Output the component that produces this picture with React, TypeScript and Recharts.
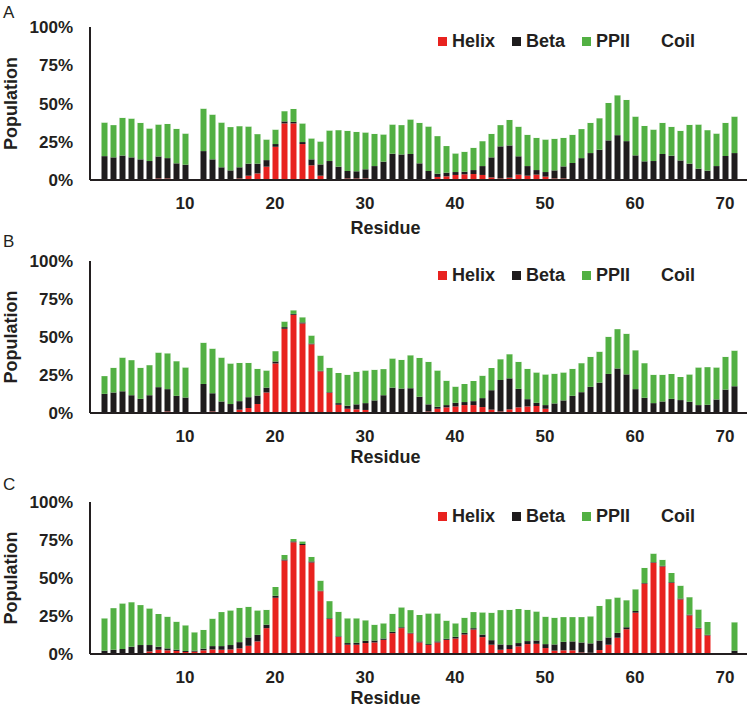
import React from "react";
import {Bar, BarChart, Legend, XAxis, YAxis} from "recharts";

const residues = [
  1, 2, 3, 4, 5, 6, 7, 8, 9, 10, 11, 12, 13, 14, 15, 16, 17, 18, 19, 20,
  21, 22, 23, 24, 25, 26, 27, 28, 29, 30, 31, 32, 33, 34, 35, 36, 37, 38, 39, 40,
  41, 42, 43, 44, 45, 46, 47, 48, 49, 50, 51, 52, 53, 54, 55, 56, 57, 58, 59, 60,
  61, 62, 63, 64, 65, 66, 67, 68, 69, 70, 71,
];

const seriesNames = ["Helix", "Beta", "PPII", "Coil"];
const xTicks = [10, 20, 30, 40, 50, 60, 70];
const yTicks = [0, 25, 50, 75, 100];

// panel A
const helixA = [
  0, 0, 0, 0, 0, 0, 1, 1, 0.5, 0.5, null, 0, 0.5, 0, 0, 1, 2.8, 4.3, 8.7, 21.7,
  37, 37, 23.5, 9.6, 2.8, 0.5, 0, 1, 1, 1, 0, 0, 0, 0, 0, 0, 0, 2, 2.4, 3.3,
  3.7, 3.9, 3.3, 1.7, 1, 1.5, 3.5, 2.8, 3.5, 2.2, 1, 1, 0.5, 0, 0, 0, 0, 0, 0, 0,
  0, 0, 0, 0, 0, 0, 0, 0, 0, 0, 0,
];
const betaA = [
  15.6, 14.8, 16, 14.8, 13.5, 12.4, 14.4, 13.3, 10.4, 9.5, null, 18.9, 13, 8.3, 6.3, 7.3, 7.9, 6.4, 4.3, 1.8,
  1.3, 1, 1.3, 3.9, 7.4, 11.9, 8.7, 4.9, 4.7, 6, 9.1, 12, 17.2, 16.7, 17, 10.9, 5.9, 2.1, 2.4, 1.9,
  1.7, 2.6, 5.8, 13.1, 21, 21.1, 12, 6.3, 3, 3, 5.3, 7.9, 10.6, 14.3, 17.6, 19.8, 25.9, 29.3, 25.4, 16.1,
  12.2, 12.4, 17, 15.9, 12.8, 10.7, 7.4, 6.1, 9.1, 15.7, 17.6,
];
const ppiiA = [
  22, 21.1, 24.7, 25.4, 23.9, 21.3, 20.9, 22.4, 22.6, 20.4, null, 27.8, 29.3, 29.3, 28.3, 26.9, 24.3, 19.3, 13.5, 9.5,
  6.7, 8.5, 12.2, 13.7, 15, 20, 23.9, 26.3, 25.8, 24.1, 21.1, 17.8, 19.1, 19.2, 22.6, 26.5, 29.1, 24.6, 17.4, 12.2,
  13.1, 14.6, 16.3, 15.4, 13.9, 16.7, 19.4, 20.5, 21.1, 21.3, 20.7, 18.7, 18.5, 19, 19.8, 20.6, 24.5, 26.1, 27, 25.4,
  23.2, 20.6, 20.4, 18.9, 19.4, 25.4, 28.9, 26.5, 21.3, 21.7, 23.9,
];

// panel B
const helixB = [
  0, 0, 0, 0, 0, 0, 0, 1, 0, 0, null, 0, 1, 0.5, 0, 2.2, 3.3, 5.9, 13.5, 32.6,
  55.4, 64.6, 58.9, 45.2, 27.4, 13.3, 5.4, 2.8, 2.4, 2, 0, 0, 0, 0, 0, 0, 1, 2.8, 3.7, 4.3,
  5.2, 5.2, 3.9, 2.2, 1, 2.4, 3.7, 4.3, 4.6, 2.8, 0.5, 0.5, 0.5, 0, 0, 0, 0, 0, 0, 0,
  0, 0, 0, 0, 0, 0, 0, 0, 0, 0, 0,
];
const betaB = [
  12.6, 13.5, 14.3, 11.7, 9.3, 11.7, 17, 14.7, 11.3, 10.2, null, 19.1, 12, 7.1, 5.9, 5.6, 7.1, 5.6, 3.2, 1.3,
  1.1, 0.6, 0.7, 0.5, 0.4, 0.4, 1.1, 2, 3.3, 4.5, 8.3, 11.7, 16.7, 16.1, 16.3, 10.7, 4.7, 1.3, 1.5, 2.4,
  2, 2.6, 5.9, 12.8, 20.7, 20.4, 12.2, 4.8, 2.1, 2.4, 5.8, 7.8, 10.8, 13.7, 17.2, 20, 25.7, 29.3, 25.4, 15.7,
  10, 6.5, 7.6, 9.3, 8.5, 7.4, 5.2, 5.4, 8.9, 15.4, 17.6,
];
const ppiiB = [
  11.7, 16.3, 22.2, 23.1, 20.5, 19.8, 22.8, 23.6, 22.8, 19.8, null, 27.2, 29.4, 28.9, 26.7, 25.2, 22.6, 17.6, 11.3, 6.8,
  3.7, 2.4, 3.4, 5.3, 10, 16.1, 19.8, 20.4, 21.5, 21.5, 20.2, 17.2, 19.2, 18.9, 21.7, 25.6, 28, 23.9, 16.1, 10.7,
  11.9, 13.3, 14.8, 14.6, 13.7, 15.9, 17.8, 20, 20, 20.2, 19.6, 18.4, 17.8, 19.1, 19.8, 20.4, 24.5, 25.9, 26.8, 25.6,
  22.8, 18.7, 17.6, 16.4, 15.2, 18, 24.8, 24.8, 21.1, 21.6, 23.5,
];

// panel C
const helixC = [
  0, 0, 0, 0, 0, 1.7, 2.8, 2.4, 2, 1.3, 1.5, 2.4, 3, 2.8, 3, 3.7, 5.4, 8.3, 17, 37,
  61.5, 73.5, 71.7, 60.2, 41.3, 23, 11.3, 6.1, 6.1, 7.2, 7.6, 9.3, 13.7, 17, 13.5, 7.6, 5.9, 7.6, 9.3, 10.2,
  12.8, 16.1, 11.1, 6.1, 2.8, 3.3, 5, 6.5, 6.7, 3.9, 2.2, 2.4, 2.4, 1, 0.8, 2.6, 6.1, 10.7, 16.3, 27.2,
  46.3, 60, 57.6, 46.7, 35.9, 25.4, 16.7, 12.2, null, null, 0,
];
const betaC = [
  2.2, 2.8, 3.3, 4.8, 5.9, 4.2, 2, 1.3, 0.8, 0.7, 0.7, 1.1, 2.2, 2.4, 2.9, 4.1, 5.5, 4.3, 2.3, 1.3,
  0.7, 0.6, 0.7, 0.7, 0.4, 0.5, 0.4, 1.1, 1.3, 1.5, 1.3, 0.9, 0.9, 0.6, 0.4, 0.7, 0.6, 0.7, 0.7, 1.1,
  1.1, 0.9, 1.7, 3, 3.5, 2.6, 2.2, 2, 2.2, 2.6, 4.1, 5.6, 5.9, 6.6, 6.2, 6.3, 4.8, 3.2, 1.3, 1.1,
  0.4, 0.4, 0.4, 0.5, 0.6, 0.5, 0.5, 0.4, null, null, 2.2,
];
const ppiiC = [
  21.3, 27.4, 30, 29.3, 26.3, 24.1, 21.5, 20.9, 18.5, 16.9, 12.1, 12.4, 18.1, 22.4, 22.8, 22.6, 20.2, 16.1, 9.8, 5.8,
  3, 1.6, 1.7, 3, 6.6, 11.3, 16.1, 16.3, 16.1, 13.5, 10.4, 10, 11.9, 13.1, 15, 17.4, 20.2, 18.4, 12, 8.9,
  10, 10.6, 14.6, 18.1, 22.6, 23.2, 22.4, 20.6, 19.1, 18.1, 17.6, 16.3, 16, 16.7, 17.8, 22.8, 25.2, 23.3, 17.8, 14.3,
  10, 5.7, 4, 6.1, 8.5, 11.5, 12.1, 8.5, null, null, 18.7,
];

const ink = "#231f20";
const font = "'Liberation Sans', Arial, sans-serif";

const buildRows = (helix: (number | null)[], beta: (number | null)[], ppii: (number | null)[]) =>
  residues.map((residue, i) => {
    const h = helix[i];
    const b = beta[i];
    const p = ppii[i];
    const coil = h == null || b == null || p == null ? null : +(100 - h - b - p).toFixed(1);
    return {residue, helix: h, beta: b, ppii: p, coil};
  });

// keep legend in series order (recharts sorts it by name otherwise)
const LegendBox = (props: any) => {
  const items = [...(props.payload || [])].sort(
    (a: any, b: any) => seriesNames.indexOf(a.value) - seriesNames.indexOf(b.value)
  );

  return (
    <div style={{display: "flex", fontFamily: font, fontWeight: "bold", fontSize: 18, color: ink, lineHeight: "20px"}}>
      {items.map((item: any) => (
        <div key={item.value} style={{display: "flex", alignItems: "center", marginRight: 17}}>
          <span style={{width: 9, height: 9, background: item.color, marginRight: 5, display: "inline-block"}} />
          <span>{item.value}</span>
        </div>
      ))}
    </div>
  );
};

type PanelProps = {
  letter: string;
  letterTop: number;
  top: number;
  height: number;
  mTop: number;
  mBottom: number;
  labelOffset: number;
  helix: (number | null)[];
  beta: (number | null)[];
  ppii: (number | null)[];
};

const Panel = ({letter, letterTop, top, height, mTop, mBottom, labelOffset, helix, beta, ppii}: PanelProps) => {
  const rows = buildRows(helix, beta, ppii);
  const tick = {fill: ink, fontSize: 17, fontWeight: "bold", fontFamily: font};

  return (
    <>
      <div style={{position: "absolute", left: 3, top: letterTop, fontFamily: font, fontSize: 17, color: ink, lineHeight: "17px"}}>
        {letter}
      </div>
      <div style={{position: "absolute", left: 0, top, width: 750, height}}>
        <BarChart width={750} height={height} data={rows} barSize={6} margin={{top: mTop, right: 3, bottom: mBottom, left: 0}}>
          <XAxis
            dataKey="residue"
            ticks={xTicks}
            interval={0}
            tickLine={false}
            tickMargin={11}
            axisLine={{stroke: ink, strokeWidth: 2}}
            padding={{left: 9.5, right: 8.5}}
            tick={tick}
            height={30}
            label={{value: "Residue", position: "bottom", offset: labelOffset, dx: -33, style: {fill: ink, fontSize: 18, fontWeight: "bold", fontFamily: font}}}
          />
          <YAxis
            domain={[0, 100]}
            ticks={yTicks}
            tickFormatter={(v: number) => `${v}%`}
            tickLine={false}
            tickMargin={11}
            axisLine={{stroke: ink, strokeWidth: 2}}
            tick={tick}
            width={90}
            label={{value: "Population", angle: -90, position: "insideLeft", offset: 11, style: {textAnchor: "middle", fill: ink, fontSize: 18, fontWeight: "bold", fontFamily: font}}}
          />
          <Legend
            layout="horizontal"
            verticalAlign="middle"
            align="center"
            content={<LegendBox />}
            wrapperStyle={{top: mTop + 4, left: 438, width: "auto"}}
          />
          <Bar dataKey="helix" name="Helix" stackId="s" fill="#e8221f" isAnimationActive={false} />
          <Bar dataKey="beta" name="Beta" stackId="s" fill="#1e1c1d" isAnimationActive={false} />
          <Bar dataKey="ppii" name="PPII" stackId="s" fill="#52b043" isAnimationActive={false} />
          <Bar dataKey="coil" name="Coil" stackId="s" fill="#ffffff" isAnimationActive={false} />
        </BarChart>
      </div>
    </>
  );
};

const App = () => (
  <div style={{position: "absolute", left: 0, top: 0, width: 750, height: 712, background: "#fff"}}>
    <Panel letter="A" letterTop={4} top={0} height={237} mTop={27} mBottom={27} labelOffset={11} helix={helixA} beta={betaA} ppii={ppiiA} />
    <Panel letter="B" letterTop={233} top={237} height={237} mTop={24} mBottom={31} labelOffset={7} helix={helixB} beta={betaB} ppii={ppiiB} />
    <Panel letter="C" letterTop={476} top={474} height={238} mTop={28} mBottom={28} labelOffset={7} helix={helixC} beta={betaC} ppii={ppiiC} />
  </div>
);

export default App;
